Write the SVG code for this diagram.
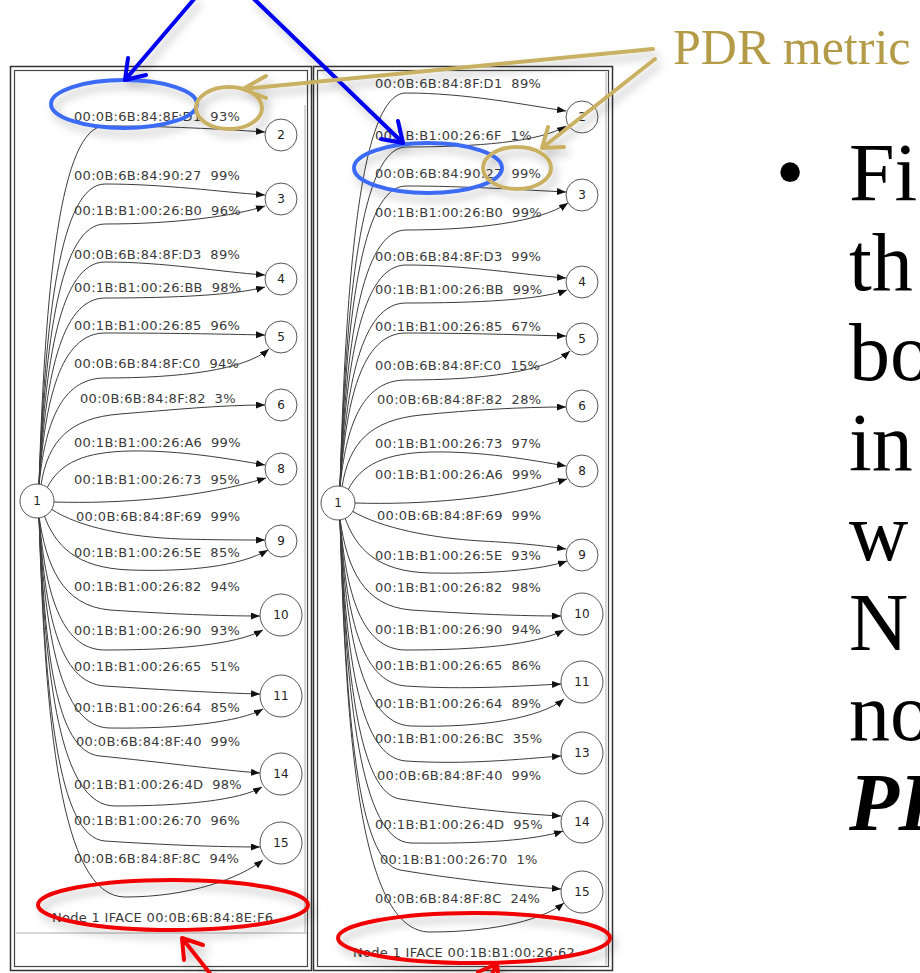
<svg xmlns="http://www.w3.org/2000/svg" width="920" height="973" viewBox="0 0 920 973">
<style>
.fr{fill:none;stroke:#333;stroke-width:1.5}
.fi{fill:none;stroke:#444;stroke-width:1.2}
.gl{stroke:#c8c8c8;stroke-width:1.5;fill:none}
.e{fill:none;stroke:#3c3c3c;stroke-width:1;marker-end:url(#ah)}
.lb{font-family:"DejaVu Sans",sans-serif;font-size:13px;letter-spacing:0.3px;fill:#3a3a3a}
.nd{fill:#fff;stroke:#555;stroke-width:1}
.nt{font-family:"DejaVu Sans",sans-serif;font-size:12px;text-anchor:middle;fill:#222}
.ann{fill:none;stroke-width:4;stroke-linecap:round;stroke-linejoin:round}
.bl{stroke:#0000f0}
.bo{stroke:#3a6af5}
.go{stroke:#c9b062}
.rd{stroke:#f00000}
.big{font-family:"Liberation Serif","Times New Roman",serif;font-size:82px;fill:#000}
</style>
<defs>
<marker id="ah" markerUnits="userSpaceOnUse" markerWidth="10" markerHeight="8" refX="9" refY="3.5" orient="auto"><path d="M0,0 L9,3.5 L0,7 z" fill="#111"/></marker>
<filter id="sh" filterUnits="userSpaceOnUse" x="0" y="0" width="920" height="973"><feDropShadow dx="4" dy="6" stdDeviation="4" flood-color="#000" flood-opacity="0.25"/></filter>
</defs>
<rect width="920" height="973" fill="#fff"/>

<!-- LEFT PANEL -->
<g id="panel-left">
<rect class="fr" x="10.5" y="66.5" width="301" height="904"/>
<rect class="fi" x="14.5" y="70.5" width="293" height="896"/>
<line class="gl" x1="305" y1="105" x2="305" y2="933"/>
<line class="gl" x1="16" y1="933" x2="307" y2="933"/>
</g>

<g id="edges-left">
<path class="e" d="M39,485 C45,288 60,126 105,126 C165,126 220,129 265,132"/>
<path class="e" d="M39,485 C45,320 60,184 105,184 C165,184 220,192 265,195"/>
<path class="e" d="M39,485 C45,342 60,224 105,224 C175,224 235,216 265,206"/>
<path class="e" d="M39,485 C45,362 60,262 105,262 C165,262 220,272 265,275"/>
<path class="e" d="M39,485 C45,382 60,298 105,298 C175,298 235,295 265,287"/>
<path class="e" d="M39,485 C45,401 60,333 105,333 C165,333 220,334 265,335"/>
<path class="e" d="M39,485 C45,426 60,378 105,378 C180,378 245,370 269,349"/>
<path class="e" d="M41,485 C48,440 70,418 120,414 C170,410 220,405 265,405"/>
<path class="e" d="M47,488 C60,462 85,452 130,451 C180,450 230,459 265,465"/>
<path class="e" d="M54,502 C120,504 200,498 266,478"/>
<path class="e" d="M51,509 C80,528 130,537 180,539 C220,540 245,540 265,540"/>
<path class="e" d="M44,515 C55,545 75,568 130,570 C190,572 240,566 268,550"/>
<path class="e" d="M39,516 C46,565 62,606 110,610 C170,614 220,616 260,616"/>
<path class="e" d="M39,516 C45,590 60,650 105,650 C175,650 235,645 263,630"/>
<path class="e" d="M39,516 C45,611 58,683 105,686 C165,690 220,693 260,694"/>
<path class="e" d="M39,516 C45,633 60,728 110,728 C180,729 240,722 263,709"/>
<path class="e" d="M39,516 C45,650 55,752 100,756 C160,762 220,770 260,773"/>
<path class="e" d="M39,516 C45,680 60,806 115,806 C185,806 240,800 262,787"/>
<path class="e" d="M39,516 C45,700 58,838 105,841 C165,845 220,847 260,847"/>
<path class="e" d="M39,516 C45,720 60,897 125,897 C190,897 240,878 263,860"/>
</g>

<g id="labels-left" class="lb">
<text x="74" y="121">00:0B:6B:84:8F:D1&#160; 93%</text>
<text x="74" y="180">00:0B:6B:84:90:27&#160; 99%</text>
<text x="74" y="215">00:1B:B1:00:26:B0&#160; 96%</text>
<text x="74" y="259">00:0B:6B:84:8F:D3&#160; 89%</text>
<text x="74" y="292">00:1B:B1:00:26:BB&#160; 98%</text>
<text x="74" y="330">00:1B:B1:00:26:85&#160; 96%</text>
<text x="74" y="368">00:0B:6B:84:8F:C0&#160; 94%</text>
<text x="80" y="403">00:0B:6B:84:8F:82&#160; 3%</text>
<text x="74" y="447">00:1B:B1:00:26:A6&#160; 99%</text>
<text x="74" y="484">00:1B:B1:00:26:73&#160; 95%</text>
<text x="76" y="521">00:0B:6B:84:8F:69&#160; 99%</text>
<text x="74" y="557">00:1B:B1:00:26:5E&#160; 85%</text>
<text x="74" y="591">00:1B:B1:00:26:82&#160; 94%</text>
<text x="74" y="635">00:1B:B1:00:26:90&#160; 93%</text>
<text x="74" y="671">00:1B:B1:00:26:65&#160; 51%</text>
<text x="74" y="712">00:1B:B1:00:26:64&#160; 85%</text>
<text x="76" y="746">00:0B:6B:84:8F:40&#160; 99%</text>
<text x="74" y="789">00:1B:B1:00:26:4D&#160; 98%</text>
<text x="74" y="825">00:1B:B1:00:26:70&#160; 96%</text>
<text x="74" y="863">00:0B:6B:84:8F:8C&#160; 94%</text>
<text x="52" y="922">Node 1 IFACE 00:0B:6B:84:8E:F6</text>
</g>

<g id="L-n1"><circle class="nd" cx="37" cy="501" r="17"/><text class="nt" x="37" y="505">1</text></g>
<g id="L-n2"><circle class="nd" cx="281" cy="135" r="16"/><text class="nt" x="281" y="139">2</text></g>
<g id="L-n3"><circle class="nd" cx="281" cy="199" r="16"/><text class="nt" x="281" y="203">3</text></g>
<g id="L-n4"><circle class="nd" cx="281" cy="279" r="16"/><text class="nt" x="281" y="283">4</text></g>
<g id="L-n5"><circle class="nd" cx="281" cy="337" r="16"/><text class="nt" x="281" y="341">5</text></g>
<g id="L-n6"><circle class="nd" cx="281" cy="405" r="16"/><text class="nt" x="281" y="409">6</text></g>
<g id="L-n8"><circle class="nd" cx="281" cy="469" r="16"/><text class="nt" x="281" y="473">8</text></g>
<g id="L-n9"><circle class="nd" cx="281" cy="541" r="16"/><text class="nt" x="281" y="545">9</text></g>
<g id="L-n10"><circle class="nd" cx="281" cy="615" r="21"/><text class="nt" x="281" y="619">10</text></g>
<g id="L-n11"><circle class="nd" cx="281" cy="696" r="21"/><text class="nt" x="281" y="700">11</text></g>
<g id="L-n14"><circle class="nd" cx="281" cy="774" r="21"/><text class="nt" x="281" y="778">14</text></g>
<g id="L-n15"><circle class="nd" cx="281" cy="843" r="21"/><text class="nt" x="281" y="847">15</text></g>

<!-- RIGHT PANEL -->
<g id="panel-right">
<rect class="fr" x="313.5" y="66.5" width="299" height="904"/>
<rect class="fi" x="317.5" y="70.5" width="291" height="896"/>
<line class="gl" x1="606" y1="72" x2="606" y2="965"/>
</g>

<g id="edges-right">
<path class="e" d="M340,487 C346,270 361,93 406,93 C466,93 525,105 566,111"/>
<path class="e" d="M340,487 C346,299 361,147 406,147 C476,147 540,142 566,126"/>
<path class="e" d="M340,487 C346,321 361,186 406,186 C466,186 525,190 566,192"/>
<path class="e" d="M340,487 C346,346 361,230 406,230 C476,230 540,222 568,203"/>
<path class="e" d="M340,487 C346,365 361,265 406,265 C466,265 525,275 566,278"/>
<path class="e" d="M340,487 C346,386 361,303 406,303 C476,303 540,300 567,290"/>
<path class="e" d="M340,487 C346,402 361,333 406,333 C466,333 525,335 566,336"/>
<path class="e" d="M340,487 C346,428 361,380 406,380 C481,380 546,372 570,351"/>
<path class="e" d="M342,487 C349,442 371,420 421,415 C471,410 521,407 566,407"/>
<path class="e" d="M348,490 C361,464 386,453 431,452 C481,451 531,460 566,466"/>
<path class="e" d="M355,503 C421,505 501,499 567,479"/>
<path class="e" d="M352,511 C381,528 431,538 481,541 C521,543 546,546 566,549"/>
<path class="e" d="M345,518 C356,548 376,572 431,573 C491,574 541,570 567,561"/>
<path class="e" d="M340,519 C347,568 363,606 411,610 C471,614 521,616 561,616"/>
<path class="e" d="M340,519 C346,592 361,650 406,650 C476,650 536,645 564,630"/>
<path class="e" d="M340,519 C346,612 360,683 406,686 C466,690 521,686 561,684"/>
<path class="e" d="M340,519 C346,632 361,724 411,726 C481,728 541,718 564,699"/>
<path class="e" d="M340,519 C346,660 360,758 406,761 C466,765 521,759 561,756"/>
<path class="e" d="M340,519 C346,680 360,793 400,799 C460,808 520,814 561,816"/>
<path class="e" d="M340,519 C346,700 361,842 411,843 C481,844 536,840 563,831"/>
<path class="e" d="M340,519 C346,720 358,862 400,870 C460,880 520,886 561,889"/>
<path class="e" d="M340,519 C346,740 360,932 430,932 C500,932 545,918 564,903"/>
</g>

<g id="labels-right" class="lb">
<text x="375" y="88">00:0B:6B:84:8F:D1&#160; 89%</text>
<text x="375" y="140">00:1B:B1:00:26:6F&#160; 1%</text>
<text x="375" y="178">00:0B:6B:84:90:27&#160; 99%</text>
<text x="375" y="217">00:1B:B1:00:26:B0&#160; 99%</text>
<text x="375" y="261">00:0B:6B:84:8F:D3&#160; 99%</text>
<text x="375" y="294">00:1B:B1:00:26:BB&#160; 99%</text>
<text x="375" y="331">00:1B:B1:00:26:85&#160; 67%</text>
<text x="375" y="370">00:0B:6B:84:8F:C0&#160; 15%</text>
<text x="377" y="404">00:0B:6B:84:8F:82&#160; 28%</text>
<text x="375" y="448">00:1B:B1:00:26:73&#160; 97%</text>
<text x="375" y="479">00:1B:B1:00:26:A6&#160; 99%</text>
<text x="377" y="520">00:0B:6B:84:8F:69&#160; 99%</text>
<text x="375" y="560">00:1B:B1:00:26:5E&#160; 93%</text>
<text x="375" y="592">00:1B:B1:00:26:82&#160; 98%</text>
<text x="375" y="634">00:1B:B1:00:26:90&#160; 94%</text>
<text x="375" y="670">00:1B:B1:00:26:65&#160; 86%</text>
<text x="375" y="708">00:1B:B1:00:26:64&#160; 89%</text>
<text x="375" y="743">00:1B:B1:00:26:BC&#160; 35%</text>
<text x="377" y="780">00:0B:6B:84:8F:40&#160; 99%</text>
<text x="375" y="829">00:1B:B1:00:26:4D&#160; 95%</text>
<text x="380" y="864">00:1B:B1:00:26:70&#160; 1%</text>
<text x="375" y="903">00:0B:6B:84:8F:8C&#160; 24%</text>
<text x="353" y="957">Node 1 IFACE 00:1B:B1:00:26:62</text>
</g>

<g id="R-n1"><circle class="nd" cx="338" cy="503" r="17"/><text class="nt" x="338" y="507">1</text></g>
<g id="R-n2"><circle class="nd" cx="582" cy="117" r="16"/><text class="nt" x="582" y="121">2</text></g>
<g id="R-n3"><circle class="nd" cx="582" cy="195" r="16"/><text class="nt" x="582" y="199">3</text></g>
<g id="R-n4"><circle class="nd" cx="582" cy="282" r="16"/><text class="nt" x="582" y="286">4</text></g>
<g id="R-n5"><circle class="nd" cx="582" cy="339" r="16"/><text class="nt" x="582" y="343">5</text></g>
<g id="R-n6"><circle class="nd" cx="582" cy="406" r="16"/><text class="nt" x="582" y="410">6</text></g>
<g id="R-n8"><circle class="nd" cx="582" cy="471" r="16"/><text class="nt" x="582" y="475">8</text></g>
<g id="R-n9"><circle class="nd" cx="582" cy="555" r="16"/><text class="nt" x="582" y="559">9</text></g>
<g id="R-n10"><circle class="nd" cx="582" cy="614" r="21"/><text class="nt" x="582" y="618">10</text></g>
<g id="R-n11"><circle class="nd" cx="582" cy="682" r="21"/><text class="nt" x="582" y="686">11</text></g>
<g id="R-n13"><circle class="nd" cx="582" cy="753" r="21"/><text class="nt" x="582" y="757">13</text></g>
<g id="R-n14"><circle class="nd" cx="582" cy="822" r="21"/><text class="nt" x="582" y="826">14</text></g>
<g id="R-n15"><circle class="nd" cx="582" cy="892" r="21"/><text class="nt" x="582" y="896">15</text></g>

<!-- SLIDE TEXT -->
<g id="slide-text">
<text x="673" y="64" style="font-family:'Liberation Serif','Times New Roman',serif;font-size:50px;fill:#b39b47">PDR metric</text>
<text class="big" x="790" y="200" text-anchor="middle">•</text>
<text class="big" x="849" y="200">Fi</text>
<text class="big" x="849" y="290">th</text>
<text class="big" x="849" y="380">bo</text>
<text class="big" x="849" y="470">in</text>
<text class="big" x="849" y="560">w</text>
<text class="big" x="849" y="650">N</text>
<text class="big" x="849" y="740">no</text>
<text class="big" x="849" y="830" style="font-weight:bold;font-style:italic">PI</text>
</g>

<!-- ANNOTATIONS -->
<g id="annotations" filter="url(#sh)">
<ellipse class="ann bo" cx="124" cy="104" rx="73" ry="24"/>
<ellipse class="ann bo" cx="428" cy="168" rx="74" ry="25"/>
<ellipse class="ann go" cx="229" cy="108" rx="33" ry="21"/>
<ellipse class="ann go" cx="517" cy="168" rx="34" ry="21"/>
<ellipse class="ann rd" cx="173" cy="905" rx="135" ry="25"/>
<ellipse class="ann rd" cx="474" cy="938" rx="136" ry="25"/>
<path class="ann bl" d="M195,-2 L125,80 M146,75 L125,80 L128,58"/>
<path class="ann bl" d="M253,-2 L403,143 M398,121 L403,143 L381,139"/>
<path class="ann go" d="M653,49 L243,89 M266,76 L243,89 L266,98"/>
<path class="ann go" d="M655,59 L542,148 M564,147 L542,148 L548,127"/>
<path class="ann rd" d="M212,976 L182,938 M184,960 L182,938 L203,945"/>
<path class="ann rd" d="M486,986 L497,964 M478,972 L497,964 L499,984"/>
</g>
</svg>
